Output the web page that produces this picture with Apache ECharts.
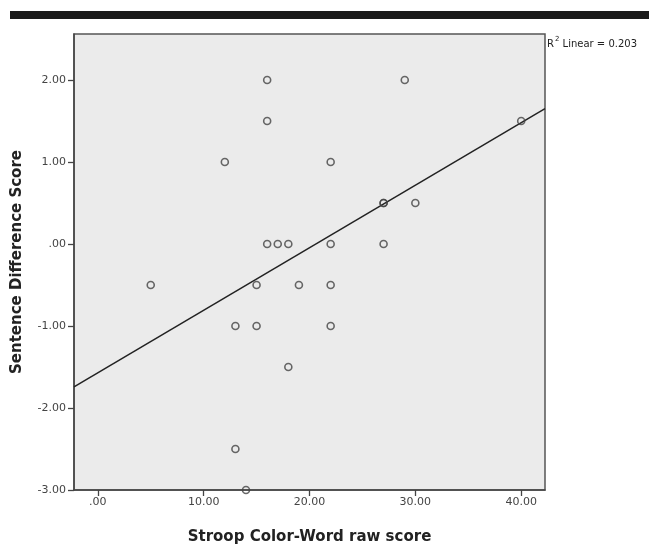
<!DOCTYPE html>
<html>
<head>
<meta charset="utf-8">
<script src="https://cdn.jsdelivr.net/npm/echarts@6/dist/echarts.min.js"></script>
<style>
  html, body { margin: 0; padding: 0; background: #fff; }
  #main { width: 649px; height: 547px; }
</style>
</head>
<body>
<div id="main"></div>
<script>
// 散点数据 (Stroop 分数, 句子差异分数)
const stroopScore = [16, 29, 16, 40, 12, 22, 27, 27, 30, 16, 17, 18, 22, 27, 5, 15, 19, 22, 13, 15, 22, 18, 13, 14];
const sentenceDiff = [2, 2, 1.5, 1.5, 1, 1, 0.5, 0.5, 0.5, 0, 0, 0, 0, 0, -0.5, -0.5, -0.5, -0.5, -1, -1, -1, -1.5, -2.5, -3];
const xTicks = [0, 10, 20, 30, 40];
const yTicks = [-3, -2, -1, 0, 1, 2];
const xRange = [-2.25, 42.25];
const yRange = [-3, 2.56];

// SPSS 风格的数字: 0 -> .00
function spssFmt(v) {
  let s = Number(v).toFixed(2);
  if (s === '0.00') s = '.00';
  return s;
}

// 最小二乘拟合
function linearFit(xs, ys) {
  const n = xs.length;
  let sx = 0, sy = 0, sxx = 0, sxy = 0;
  for (let i = 0; i < n; i++) {
    sx += xs[i]; sy += ys[i];
    sxx += xs[i] * xs[i]; sxy += xs[i] * ys[i];
  }
  const b = (sxy - sx * sy / n) / (sxx - sx * sx / n);
  const a = sy / n - b * sx / n;
  return { a: a, b: b };
}

const fit = linearFit(stroopScore, sentenceDiff);
const points = stroopScore.map((x, i) => [x, sentenceDiff[i]]);
const fitLine = xRange.map(x => [x, fit.a + fit.b * x]);

const chart = echarts.init(document.getElementById('main'), null, { renderer: 'canvas' });

const labelFont = '"DejaVu Sans", sans-serif';

const option = {
  animation: false,
  backgroundColor: '#fff',
  grid: {
    left: 74, right: 104, top: 34, bottom: 57,
    containLabel: false,
    outerBoundsMode: 'none',
    show: true,
    backgroundColor: '#ebebeb',
    borderColor: '#555',
    borderWidth: 1.5
  },
  xAxis: {
    type: 'value',
    min: xRange[0],
    max: xRange[1],
    splitLine: { show: false },
    axisLine: { show: true, onZero: false, lineStyle: { color: '#444', width: 1.5 } },
    axisTick: { show: true, customValues: xTicks, length: 6, lineStyle: { color: '#444', width: 1.3 } },
    axisLabel: {
      customValues: xTicks,
      formatter: spssFmt,
      color: '#444',
      fontSize: 11,
      fontFamily: labelFont,
      margin: 7
    },
    name: 'Stroop Color-Word raw score',
    nameLocation: 'middle',
    nameGap: 40,
    nameTextStyle: { fontSize: 15, fontWeight: 'bold', color: '#222', fontFamily: labelFont }
  },
  yAxis: {
    type: 'value',
    min: yRange[0],
    max: yRange[1],
    splitLine: { show: false },
    axisLine: { show: true, onZero: false, lineStyle: { color: '#444', width: 1.5 } },
    axisTick: { show: true, customValues: yTicks, length: 6, lineStyle: { color: '#444', width: 1.3 } },
    axisLabel: {
      customValues: yTicks,
      formatter: spssFmt,
      color: '#444',
      fontSize: 11,
      fontFamily: labelFont,
      margin: 8
    },
    name: 'Sentence Difference Score',
    nameLocation: 'middle',
    nameGap: 49,
    nameTextStyle: { fontSize: 15, fontWeight: 'bold', color: '#222', fontFamily: labelFont }
  },
  graphic: [
    { // 顶部黑条
      type: 'rect',
      shape: { x: 10, y: 11, width: 639, height: 8 },
      style: { fill: '#1a1a1a' }
    },
    {
      type: 'text',
      left: 547,
      top: 36,
      style: {
        text: '{r|R}{s|2}{r| Linear = 0.203}',
        rich: {
          r: { fontSize: 10, fontFamily: labelFont, fill: '#222', verticalAlign: 'bottom' },
          s: { fontSize: 7, fontFamily: labelFont, fill: '#222', padding: [0, 0, 6, 1] }
        }
      }
    }
  ],
  series: [
    {
      type: 'scatter',
      data: points,
      symbol: 'circle',
      symbolSize: 7,
      itemStyle: { color: 'rgba(0,0,0,0)', borderColor: '#444', borderWidth: 1.6 },
      z: 3
    },
    {
      type: 'line',
      data: fitLine,
      showSymbol: false,
      lineStyle: { color: '#222', width: 1.5 },
      z: 2
    }
  ]
};

chart.setOption(option);
</script>
</body>
</html>
